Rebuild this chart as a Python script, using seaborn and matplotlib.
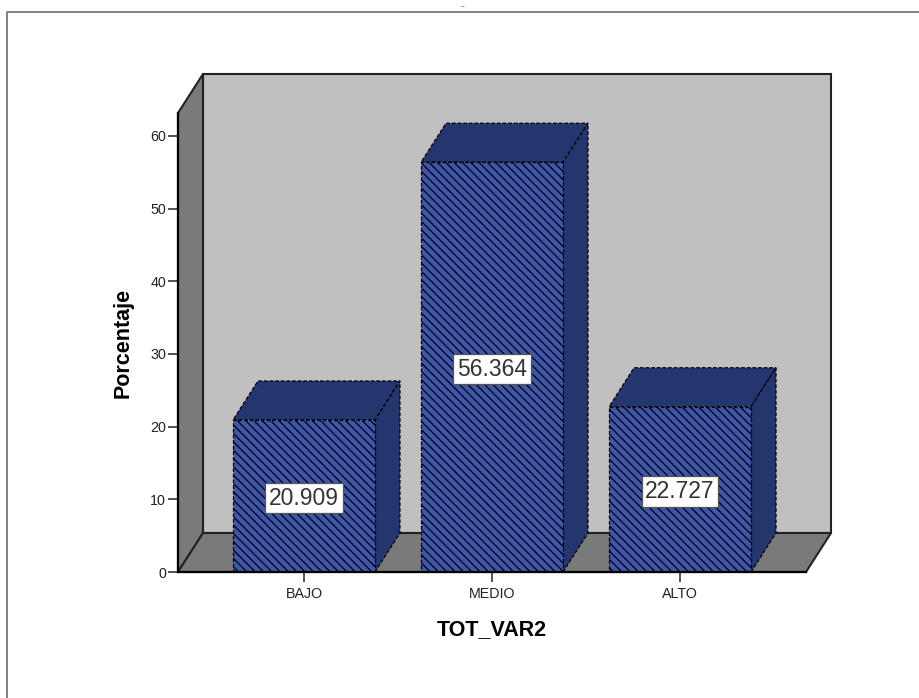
import numpy as np
import pandas as pd
import matplotlib
matplotlib.use("Agg")
import matplotlib.pyplot as plt
from matplotlib.lines import Line2D
from matplotlib.patches import Polygon
import seaborn as sns

categories = ["BAJO", "MEDIO", "ALTO"]
porcentaje = [20.909, 56.364, 22.727]
labels = ["20.909", "56.364", "22.727"]
y_ticks = [0, 10, 20, 30, 40, 50, 60]

W, H = 920, 698
FRONT = "#3f56ad"
DARK = "#24366e"
WALL = "#c0c0c0"
SIDE = "#7a7a7a"

sns.set_theme(style="white")
plt.rcParams["font.family"] = ["Liberation Sans", "DejaVu Sans"]
plt.rcParams["hatch.linewidth"] = 0.9

fig = plt.figure(figsize=(W / 100, H / 100), dpi=100)
# axes box is the front plane of the 3d frame, in pixels
left, right, bottom, top = 178, 806, 572, 113
ax = fig.add_axes([left / W, 1 - bottom / H, (right - left) / W, (bottom - top) / H])

df = pd.DataFrame({"TOT_VAR2": categories, "Porcentaje": porcentaje})
sns.barplot(data=df, x="TOT_VAR2", y="Porcentaje", color=FRONT, saturation=1,
            width=0.755, ax=ax, zorder=5, edgecolor="black", linewidth=0.9,
            linestyle=(0, (3, 1.5)), hatch="\\\\\\\\")

ax.set_xlim(-0.67, 2.67)
ax.set_ylim(0, (bottom - top) / 7.27)
ax.patch.set_visible(False)
dx = 25 / 188
dy = 39 / 7.27
x0, x1 = ax.get_xlim()
y1 = ax.get_ylim()[1]

# back wall, side wall, floor
ax.add_patch(Polygon([(x0 + dx, dy), (x1 + dx, dy), (x1 + dx, y1 + dy), (x0 + dx, y1 + dy)],
                     fc=WALL, ec="#222222", lw=1.5, clip_on=False, zorder=1))
ax.add_patch(Polygon([(x0, 0), (x0 + dx, dy), (x0 + dx, y1 + dy), (x0, y1)],
                     fc=SIDE, ec="#222222", lw=1.5, clip_on=False, zorder=2))
ax.add_patch(Polygon([(x0, 0), (x1, 0), (x1 + dx, dy), (x0 + dx, dy)],
                     fc=SIDE, ec="#222222", lw=1.5, clip_on=False, zorder=2))

# top and side face of each bar
for i, bar in enumerate(ax.containers[0]):
    bx, bw, bh = bar.get_x(), bar.get_width(), bar.get_height()
    ax.add_patch(Polygon([(bx, bh), (bx + bw, bh), (bx + bw + dx, bh + dy), (bx + dx, bh + dy)],
                         fc=DARK, ec="black", lw=0.9, ls=(0, (3, 1.5)), clip_on=False, zorder=4))
    ax.add_patch(Polygon([(bx + bw, 0), (bx + bw + dx, dy), (bx + bw + dx, bh + dy), (bx + bw, bh)],
                         fc=DARK, ec="black", lw=0.9, ls=(0, (3, 1.5)), clip_on=False, zorder=4))
    ax.text(bx + bw / 2, bh / 2 - 0.3, labels[i], ha="center", va="center",
            fontsize=16.5, color="#333333", zorder=8,
            bbox=dict(fc="white", ec="#555555", lw=0.9, boxstyle="square,pad=0.16"))

sns.despine(ax=ax, top=True, right=True)
for s in ["left", "bottom"]:
    ax.spines[s].set_color("black")
    ax.spines[s].set_linewidth(1.6)
    ax.spines[s].set_zorder(6)

ax.set_yticks(y_ticks)
ax.tick_params(axis="x", length=7.5, width=1.1, color="#222222", labelsize=10.3,
               labelcolor="#222222", pad=3.5, bottom=True)
ax.tick_params(axis="y", length=7.5, width=1.1, color="#222222", labelsize=10.3,
               labelcolor="#222222", pad=1, left=True)
ax.set_xlabel("TOT_VAR2", fontsize=15.5, fontweight="bold", labelpad=13, color="black")
ax.set_ylabel("Porcentaje", fontsize=15.5, fontweight="bold", labelpad=12, color="black")

# outer chart frame has only its left and top sides in view
fig.add_artist(Line2D([7.5 / W, 7.5 / W, 1], [0, 1 - 11.5 / H, 1 - 11.5 / H],
                      transform=fig.transFigure, color="#777777", lw=1.3))
fig.text(462 / W, 1 - 7.5 / H, "_", ha="center", va="bottom", fontsize=4.5, color="black")

fig.savefig("out.png", dpi=100)
